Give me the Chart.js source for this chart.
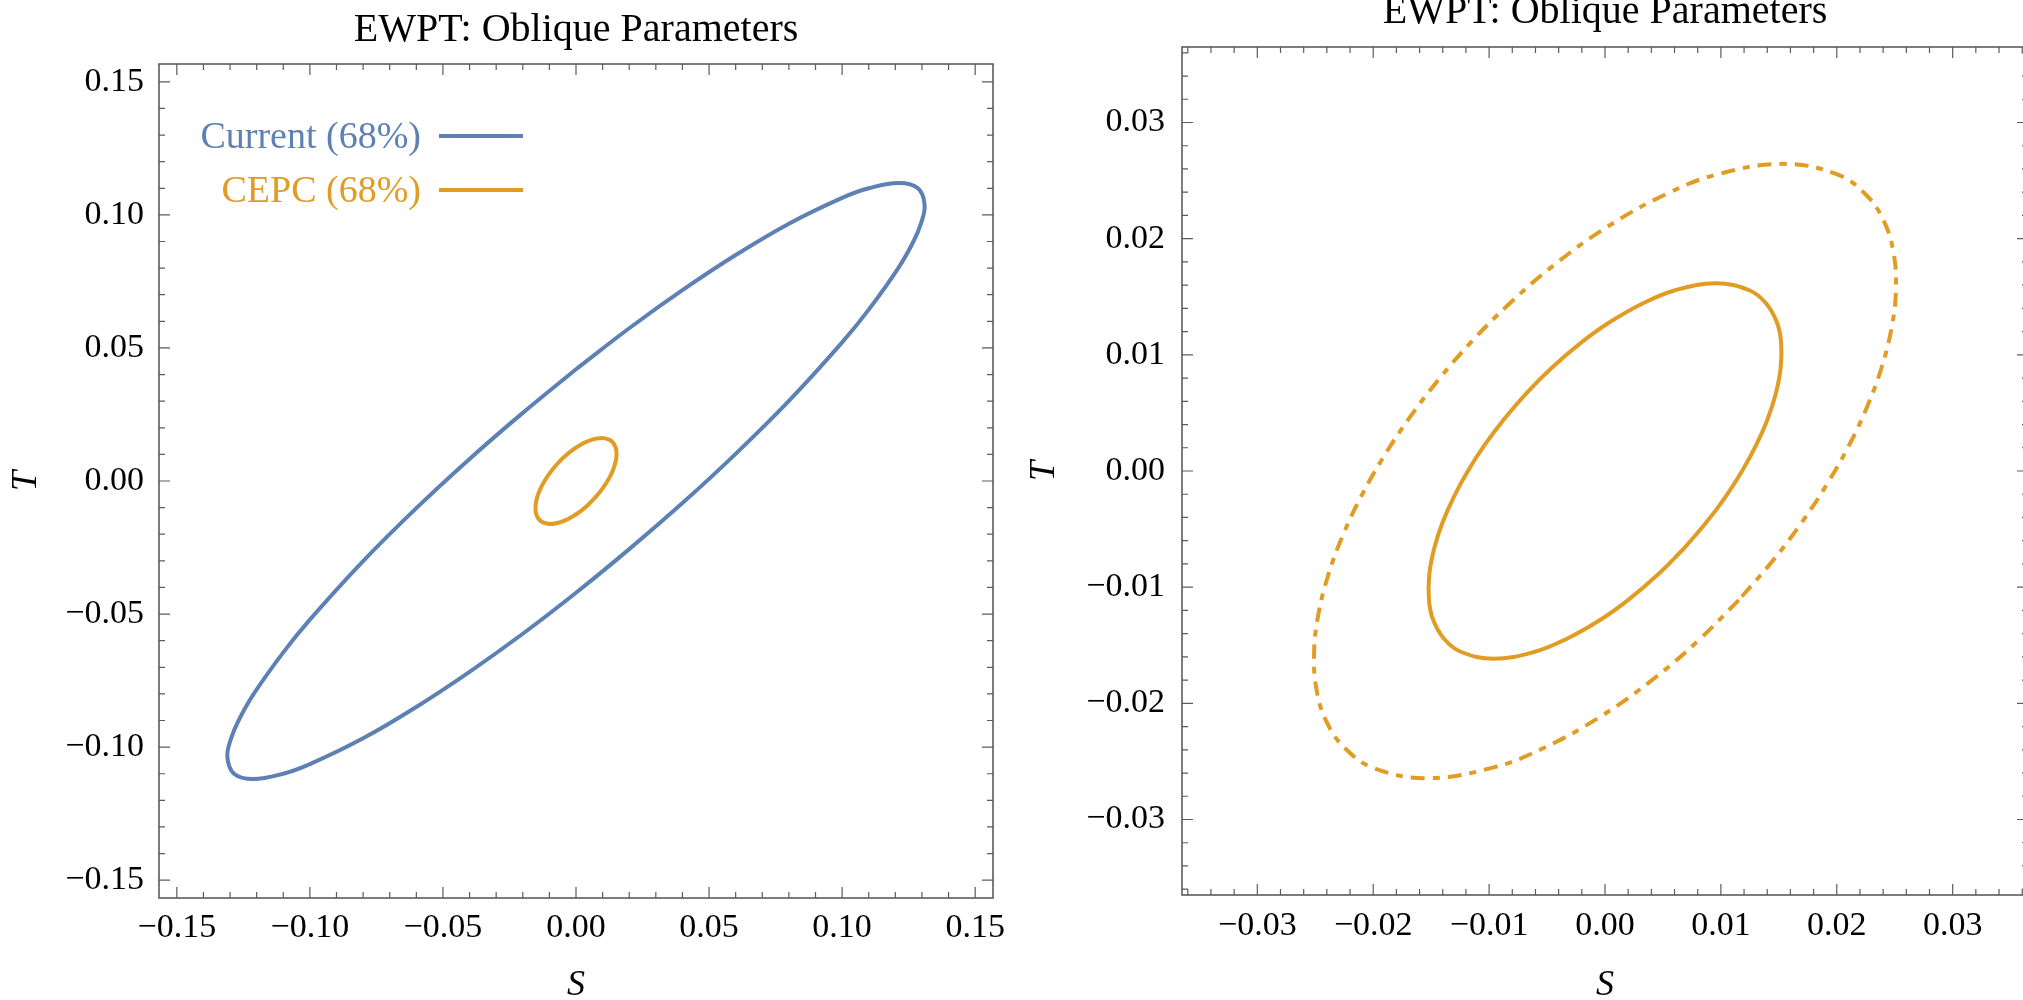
<!DOCTYPE html>
<html>
<head>
<meta charset="utf-8">
<script src="https://cdn.jsdelivr.net/npm/chart.js@4.4.1/dist/chart.umd.min.js"></script>
<style>
  html, body { margin: 0; padding: 0; background: #fff; width: 2023px; height: 1000px; overflow: hidden; }
  .panel { position: absolute; top: 0; }
</style>
</head>
<body>
<div class="panel" style="left:0px;"><canvas id="leftChart" width="1016" height="1020"></canvas></div>
<div class="panel" style="left:1016px;"><canvas id="rightChart" width="1100" height="1020"></canvas></div>
<script type="text/javascript">
// Current (68%) contour
const currentS = [0.000, 0.020, 0.040, 0.060, 0.080, 0.100, 0.110, 0.1214, 0.1285, 0.1310, 0.1297, 0.1268, 0.1211, 0.110, 0.100, 0.080, 0.060, 0.040, 0.020, 0.000,
                  -0.020, -0.040, -0.060, -0.080, -0.100, -0.110, -0.1214, -0.1285, -0.1310, -0.1297, -0.1268, -0.1211, -0.110, -0.100, -0.080, -0.060, -0.040, -0.020, 0.000];
const currentT = [0.0420, 0.0574, 0.0717, 0.0849, 0.0967, 0.1064, 0.1100, 0.1120, 0.1100, 0.1038, 0.0970, 0.0900, 0.0800, 0.0644, 0.0521, 0.0301, 0.0102, -0.0083, -0.0256, -0.0420,
                  -0.0574, -0.0717, -0.0849, -0.0967, -0.1064, -0.1100, -0.1120, -0.1100, -0.1038, -0.0970, -0.0900, -0.0800, -0.0644, -0.0521, -0.0301, -0.0102, 0.0083, 0.0256, 0.0420];

// CEPC (68%) contour
const cepcS = [0.00681, 0.00459, 0.00198, -0.00036, -0.00329, -0.00606, -0.00961, -0.01245, -0.01389, -0.01484, -0.01519, -0.01516, -0.01474, -0.01402, -0.01304,
               -0.01183, -0.01040, -0.00873, -0.00681, -0.00459, -0.00198, 0.00036, 0.00329, 0.00606, 0.00961, 0.01245, 0.01389, 0.01484, 0.01519, 0.01516,
               0.01474, 0.01402, 0.01304, 0.01183, 0.01040, 0.00873, 0.00681];
const cepcT = [-0.00667, -0.00889, -0.01111, -0.01278, -0.01444, -0.01556, -0.01616, -0.01556, -0.01444, -0.01278, -0.01111, -0.00889, -0.00667, -0.00444, -0.00222,
               0.00000, 0.00222, 0.00444, 0.00667, 0.00889, 0.01111, 0.01278, 0.01444, 0.01556, 0.01616, 0.01556, 0.01444, 0.01278, 0.01111, 0.00889,
               0.00667, 0.00444, 0.00222, 0.00000, -0.00222, -0.00444, -0.00667];

// CEPC (95%) contour, dot-dashed in the right panel
const cepc95S = [0.01154, 0.00821, 0.00434, -0.00034, -0.00539, -0.00977, -0.01540, -0.01998, -0.02241, -0.02399, -0.02488, -0.02510, -0.02471, -0.02386, -0.02263,
                 -0.02106, -0.01917, -0.01697, -0.01443, -0.01154, -0.00821, -0.00434, 0.00034, 0.00539, 0.00977, 0.01540, 0.01998, 0.02241, 0.02399, 0.02488,
                 0.02510, 0.02471, 0.02386, 0.02263, 0.02106, 0.01917, 0.01697, 0.01443, 0.01154];
const cepc95T = [-0.01111, -0.01444, -0.01778, -0.02111, -0.02389, -0.02556, -0.02644, -0.02556, -0.02389, -0.02167, -0.01889, -0.01556, -0.01222, -0.00889, -0.00556,
                 -0.00222, 0.00111, 0.00444, 0.00778, 0.01111, 0.01444, 0.01778, 0.02111, 0.02389, 0.02556, 0.02644, 0.02556, 0.02389, 0.02167, 0.01889,
                 0.01556, 0.01222, 0.00889, 0.00556, 0.00222, -0.00111, -0.00444, -0.00778, -0.01111];

const leftTicks = [-0.15, -0.10, -0.05, 0.00, 0.05, 0.10, 0.15];
const rightTicks = [-0.03, -0.02, -0.01, 0.00, 0.01, 0.02, 0.03];

const BLUE = '#5E81B5';
const ORANGE = '#E19C24';
const SERIF = '"Liberation Serif", "Times New Roman", serif';

function pts(xs, ys) { return xs.map((v, i) => ({x: v, y: ys[i]})); }
function fmt(v) { return (v < 0 ? '\u2212' : '') + Math.abs(v).toFixed(2); }

// frame with inward ticks on all four sides, title, optional legend
const frameTicks = {
  id: 'frameTicks',
  afterDraw(chart, args, opts) {
    const {ctx, chartArea: a, scales: {x, y}} = chart;
    ctx.save();
    ctx.strokeStyle = '#5c5c5c';
    ctx.lineWidth = 1.6;
    ctx.strokeRect(a.left, a.top, a.right - a.left, a.bottom - a.top);
    ctx.lineWidth = 1.2;
    const n = Math.round(opts.limit / opts.minor);
    ctx.beginPath();
    for (let i = -n; i <= n; i++) {
      const v = i * opts.minor;
      const len = (i % opts.every === 0) ? 11 : 6;
      const px = x.getPixelForValue(v), py = y.getPixelForValue(v);
      ctx.moveTo(px, a.bottom); ctx.lineTo(px, a.bottom - len);
      ctx.moveTo(px, a.top); ctx.lineTo(px, a.top + len);
      ctx.moveTo(a.left, py); ctx.lineTo(a.left + len, py);
      ctx.moveTo(a.right, py); ctx.lineTo(a.right - len, py);
    }
    ctx.stroke();

    ctx.fillStyle = '#000';
    ctx.font = '40px ' + SERIF;
    ctx.textAlign = 'center';
    ctx.textBaseline = 'alphabetic';
    ctx.fillText(opts.title, (a.left + a.right) / 2, opts.titleY);

    if (opts.legend) {
      ctx.font = '38px ' + SERIF;
      ctx.textAlign = 'right';
      ctx.textBaseline = 'middle';
      ctx.lineWidth = 4;
      chart.data.datasets.forEach((ds, i) => {
        const ly = a.top + 72 + i * 54;
        ctx.fillStyle = ds.borderColor;
        ctx.fillText(ds.label, a.left + 262, ly + 2);
        ctx.strokeStyle = ds.borderColor;
        ctx.beginPath();
        ctx.moveTo(a.left + 280, ly);
        ctx.lineTo(a.left + 364, ly);
        ctx.stroke();
      });
    }
    ctx.restore();
  }
};

function axis(range, ticks, size, title, labelPad, titlePad) {
  return {
    type: 'linear',
    min: -range,
    max: range,
    grid: {display: false, drawTicks: false},
    border: {display: false},
    afterBuildTicks: s => { s.ticks = ticks.map(v => ({value: v})); },
    afterFit: s => { if (s.isHorizontal()) s.height = size; else s.width = size; },
    ticks: {
      autoSkip: false,
      maxRotation: 0,
      padding: labelPad,
      color: '#000',
      font: {family: SERIF, size: 34},
      callback: v => fmt(v)
    },
    title: {
      display: true,
      text: title,
      color: '#000',
      font: {family: SERIF, size: 36, style: 'italic'},
      padding: titlePad
    }
  };
}

new Chart('leftChart', {
  type: 'scatter',
  data: {
    datasets: [
      {label: 'Current (68%)', data: pts(currentS, currentT), showLine: true, borderColor: BLUE, borderWidth: 4, pointRadius: 0, tension: 0.4, fill: false},
      {label: 'CEPC (68%)', data: pts(cepcS, cepcT), showLine: true, borderColor: ORANGE, borderWidth: 4, pointRadius: 0, tension: 0.4, fill: false}
    ]
  },
  options: {
    responsive: false,
    animation: false,
    layout: {padding: {top: 64, right: 23, left: 0, bottom: 0}},
    plugins: {
      legend: {display: false},
      tooltip: {enabled: false},
      frameTicks: {limit: 0.15, minor: 0.01, every: 5, title: 'EWPT: Oblique Parameters', titleY: 41, legend: true}
    },
    scales: {
      x: axis(0.1567, leftTicks, 122, 'S', 10, {top: 0, bottom: 13}),
      y: axis(0.1567, leftTicks, 159, 'T', 15, {top: 5, bottom: 0})
    }
  },
  plugins: [frameTicks]
});

new Chart('rightChart', {
  type: 'scatter',
  data: {
    datasets: [
      {label: 'CEPC (68%)', data: pts(cepcS, cepcT), showLine: true, borderColor: ORANGE, borderWidth: 4, pointRadius: 0, tension: 0.4, fill: false},
      {label: 'CEPC (95%)', data: pts(cepc95S, cepc95T), showLine: true, borderColor: ORANGE, borderWidth: 4, borderDash: [14, 8, 7, 8], pointRadius: 0, tension: 0.4, fill: false}
    ]
  },
  options: {
    responsive: false,
    animation: false,
    layout: {padding: {top: 47, right: 88, left: 0, bottom: 0}},
    plugins: {
      legend: {display: false},
      tooltip: {enabled: false},
      frameTicks: {limit: 0.036, minor: 0.002, every: 5, title: 'EWPT: Oblique Parameters', titleY: 23, legend: false}
    },
    scales: {
      x: axis(0.0365, rightTicks, 125, 'S', 11, {top: 0, bottom: 13}),
      y: axis(0.0365, rightTicks, 166, 'T', 17, {top: 7, bottom: 0})
    }
  },
  plugins: [frameTicks]
});
</script>
</body>
</html>
